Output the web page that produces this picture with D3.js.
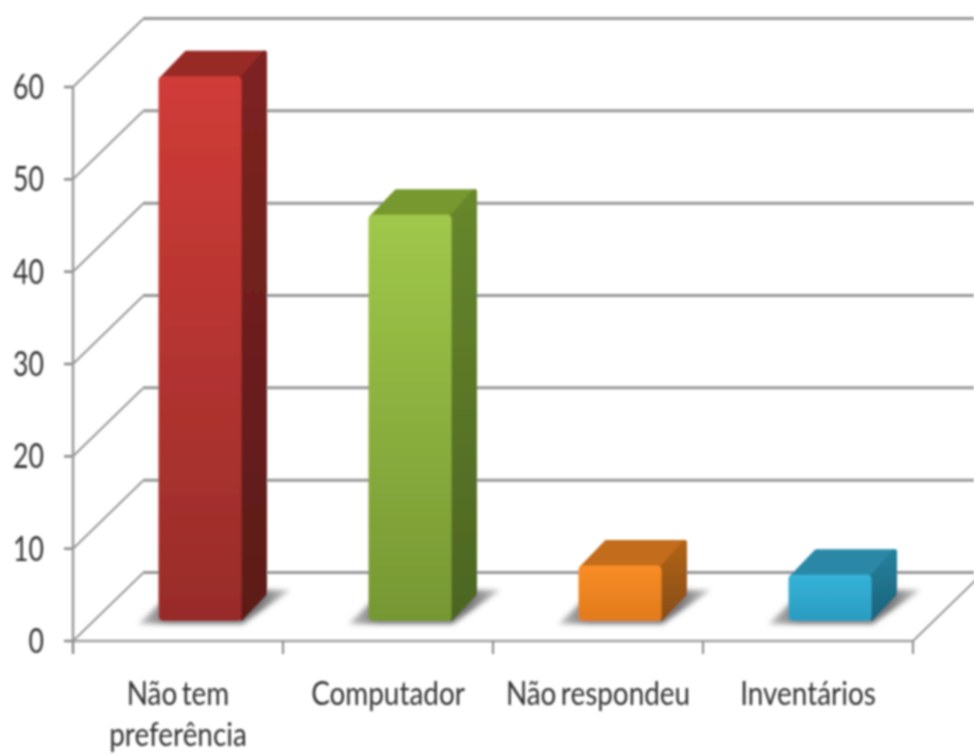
<!DOCTYPE html>
<html><head><meta charset="utf-8">
<script src="https://cdn.jsdelivr.net/npm/d3@7/dist/d3.min.js"></script>
<style>html,body{margin:0;padding:0;background:#fff;overflow:hidden}svg{display:block}</style>
</head><body><svg id="c" width="974" height="755"></svg>
<script>
const categories = [["Não tem","preferência"],["Computador"],["Não respondeu"],["Inventários"]];
const values = [59,44,6,5];
const yTicks = [0,10,20,30,40,50,60];
const frontColors = [["#d03c38","#982c2a"],["#a0c84a","#769733"],["#f98d26","#e07a1c"],["#35b2d8","#2a9cc0"]];
const topColors = ["#982a27","#76982f","#c26c1b","#2a88a6"];
const sideColors = [["#7e2421","#5c1a18"],["#68872c","#4c6522"],["#b06318","#8a4e12"],["#24809c","#1c647c"]];

const svg = d3.select("#c");
const defs = svg.append("defs");
const blur = defs.append("filter").attr("id","soft").attr("x","-5%").attr("y","-5%").attr("width","110%").attr("height","110%");
blur.append("feGaussianBlur").attr("stdDeviation",0.8);
const sb = defs.append("filter").attr("id","shadow").attr("x","-30%").attr("y","-30%").attr("width","160%").attr("height","160%");
sb.append("feGaussianBlur").attr("stdDeviation",2.5);
function grad(id,c){const g=defs.append("linearGradient").attr("id",id).attr("x1",0).attr("y1",0).attr("x2",0).attr("y2",1);
  g.append("stop").attr("offset",0).attr("stop-color",c[0]);g.append("stop").attr("offset",1).attr("stop-color",c[1]);}
frontColors.forEach((c,i)=>{grad("f"+i,c);grad("s"+i,sideColors[i]);});
const sg=defs.append("linearGradient").attr("id","sh").attr("x1",0).attr("y1",0).attr("x2",1).attr("y2",0);
sg.append("stop").attr("offset",0).attr("stop-color","#c4c4c4");sg.append("stop").attr("offset",0.2).attr("stop-color","#777");sg.append("stop").attr("offset",0.8).attr("stop-color","#777");sg.append("stop").attr("offset",1).attr("stop-color","#ccc");

const x0=73,x1=913,y0=641,y60=87,depthX=70,depthY=68;
const y = d3.scaleLinear().domain([0,60]).range([y0,y60]);
const x = d3.scaleBand().domain(d3.range(categories.length)).range([x0,x1]);
const g = svg.append("g").attr("filter","url(#soft)");
const gridColor="#989898";
const font="Lato", textFill="#333";

// walls
yTicks.forEach(t=>{
  const yy=y(t);
  g.append("line").attr("x1",x0+depthX).attr("x2",974).attr("y1",yy-depthY-0.5).attr("y2",yy-depthY-0.5).attr("stroke",gridColor).attr("stroke-width",3);
  g.append("line").attr("x1",x0).attr("y1",yy).attr("x2",x0+depthX).attr("y2",yy-depthY).attr("stroke",gridColor).attr("stroke-width",2);
  g.append("line").attr("x1",x0-9).attr("x2",x0).attr("y1",yy).attr("y2",yy).attr("stroke","#888").attr("stroke-width",2.5);
  g.append("text").attr("transform",`translate(44,${yy+12}) scale(0.86,1.12)`).attr("text-anchor","end")
    .attr("font-family",font).attr("font-size",31).attr("fill",textFill).text(t);
});
// axes
g.append("line").attr("x1",x0).attr("x2",x0).attr("y1",y60).attr("y2",y0+13).attr("stroke","#999").attr("stroke-width",2.5);
g.append("line").attr("x1",x0).attr("x2",x1).attr("y1",y0).attr("y2",y0).attr("stroke","#a0a0a0").attr("stroke-width",2.5);
g.append("line").attr("x1",x1).attr("y1",y0).attr("x2",x1+depthX).attr("y2",y0-depthY).attr("stroke",gridColor).attr("stroke-width",2);
[0,1,2,3,4].forEach(i=>{
  const xx=x0+i*x.bandwidth();
  g.append("line").attr("x1",xx).attr("x2",xx).attr("y1",y0).attr("y2",y0+13).attr("stroke","#888").attr("stroke-width",2);
});
// bars
const barW=83,offX=22,offY=20,dX=26,dY=26;
values.forEach((v,i)=>{
  const cx=x(i)+x.bandwidth()/2+offX, l=cx-barW/2, r=cx+barW/2, b=y0-offY, t=y(v)-offY;
  const line=d3.line();
  g.append("path").attr("d",line([[l-20,b+3],[l+2,b-18],[r+dX-3,b-dY-5],[r+dX+23,b-dY-5],[r+1,b+3]])+"Z").attr("fill","url(#sh)").attr("filter","url(#shadow)");
  const sty=(p)=>p.attr("stroke-linejoin","round").attr("stroke-width",5);
  sty(g.append("path").attr("d",line([[l+3,t+3],[l+dX+2,t-dY+3],[r+dX-3,t-dY+3],[r,t+3]])+"Z").attr("fill",topColors[i]).attr("stroke",topColors[i]));
  sty(g.append("path").attr("d",line([[r,t+3],[r+dX-3,t-dY+3],[r+dX-3,b-dY-1],[r,b-3]])+"Z").attr("fill",`url(#s${i})`).attr("stroke",`url(#s${i})`));
  g.append("rect").attr("x",l).attr("y",t).attr("width",barW).attr("height",b-t).attr("rx",4.5).attr("fill",`url(#f${i})`);
});
// category labels
categories.forEach((lines,i)=>{
  const cx=x(i)+x.bandwidth()/2;
  lines.forEach((s,k)=>{
    g.append("text").attr("transform",`translate(${cx},${705+k*41}) scale(0.9,1.08)`).attr("text-anchor","middle")
      .attr("font-family",font).attr("font-size",31).attr("word-spacing",-3).attr("fill",textFill).text(s);
  });
});
</script></body></html>
